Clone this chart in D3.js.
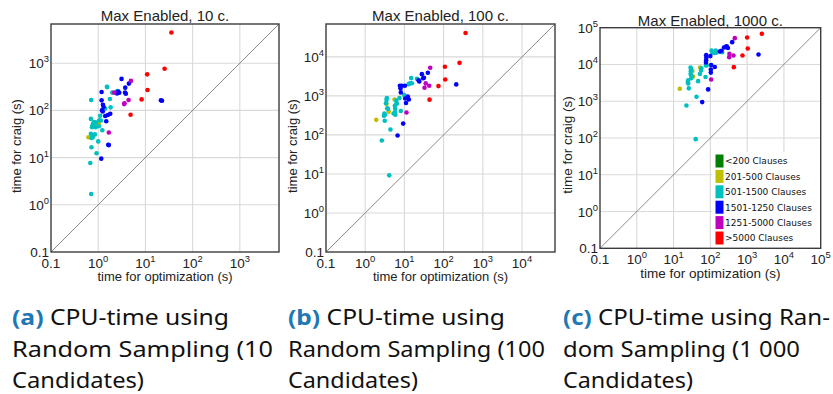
<!DOCTYPE html>
<html><head><meta charset="utf-8">
<script src="https://cdn.jsdelivr.net/npm/d3@7"></script>
<style>html,body{margin:0;padding:0;background:#fff;}svg{display:block;}</style>
</head><body>
<script>
// ---------- data ----------
const categories = ["<200 Clauses","201-500 Clauses","501-1500 Clauses","1501-1250 Clauses","1251-5000 Clauses",">5000 Clauses"];
const catColors = ["#007f00","#bfbf00","#00bfbf","#0000ff","#bf00bf","#ff0000"];

const titles = ["Max Enabled, 10 c.","Max Enabled, 100 c.","Max Enabled, 1000 c."];
const xLabel = "time for optimization (s)";
const yLabel = "time for craig (s)";
const tickExpA = [-1,0,1,2,3];
const tickExpB = [-1,0,1,2,3,4];
const tickExpC = [-1,0,1,2,3,4,5];

// panel (a) 10 candidates: [optimization s, craig s]
const green10 = [];
const yellow10 = [[0.84,56],[0.86,45],[0.62,27],[1.03,53]];
const cyan10 = [[1.53,315],[0.71,166],[1.98,238],[2.53,257],[1.77,174],[1.83,116],[0.70,66],[1.10,77],[1.05,62],[1.14,61],[0.81,56],[0.78,52],[0.75,47],[0.74,44],[0.88,44],[1.03,46],[1.22,38],[0.70,32],[0.75,29],[0.77,27],[0.72,26],[0.85,31],[1.0,22],[0.72,16.6],[0.92,12.4],[0.68,7.7],[0.71,1.69],[0.9,55],[1.4,110],[1.55,311]];
const blue10 = [[3.12,464],[4.47,369],[3.74,303],[3.7,240],[3.85,225],[2.66,250],[2.79,236],[2.5,228],[1.18,245],[21.3,163],[22.5,160],[1.18,163],[1.26,132],[1.30,118],[1.20,100],[1.25,95],[1.80,85],[1.60,80],[1.41,76],[1.48,59],[1.63,18.6],[1.68,18.4],[1.16,9.5]];
const magenta10 = [[4.93,421],[2.18,238],[4.4,166],[3.6,141],[3.55,136],[1.68,34]];
const red10 = [[35.5,4450],[25.5,760],[10.9,580],[11.1,270],[8.3,171],[4.85,81]];

// panel (b) 100 candidates
const green100 = [];
const yellow100 = [[5.6,810],[1.91,243],[4.0,395],[3.5,620]];
const cyan100 = [[14.9,2860],[13.2,2040],[14,2100],[15.5,2100],[12.8,1980],[21,2760],[9.9,1050],[7.5,880],[6.2,760],[6.4,650],[5.7,560],[5.8,465],[5.75,380],[3.55,880],[3.5,780],[3.4,650],[3.8,465],[3.65,480],[3.1,355],[3.0,310],[3.15,230],[5.3,355],[8.1,410],[4.4,138],[2.66,72],[4.1,9.2],[3.2,330],[5.9,330],[6.3,620]];
const blue100 = [[210,1970],[39.7,3910],[30,2830],[31.5,2900],[24,2340],[23,2500],[27.9,3610],[7.66,1820],[8.6,1820],[10.3,1820],[7.95,1550],[8.1,1230],[12.2,960],[13,810],[11,660],[10.5,860],[9.3,195],[6.7,97]];
const magenta100 = [[45.5,5250],[35,2090],[43,1820],[32.6,1620],[11.3,375]];
const red100 = [[363,40900],[255,7030],[108,5560],[110,2640],[74,1780],[43.8,800]];

// panel (c) 1000 candidates
const green1000 = [];
const yellow1000 = [[14.8,2190],[52.7,8300],[32.6,6600],[34,4700]];
const cyan1000 = [[22.4,767],[42,1320],[40,93],[26,2240],[29,8300],[30,7450],[29.5,6500],[29,5480],[57,7900],[56,6900],[52,5480],[31,4800],[30.5,4260],[25,3720],[24.5,3300],[25,3040],[46.5,3520],[74,4560],[76,9400],[80,9500],[112,22000],[120,21000],[130,20500],[140,24000],[145,21000],[209,21600],[108,24000]];
const blue1000 = [[2040,18700],[392,40400],[280,31000],[300,28000],[260,30000],[235,29000],[200,23600],[180,22500],[77,17900],[78,15500],[77,13100],[76,11300],[100,16900],[105,9600],[132,8500],[103,7300],[103,6000],[87,2100],[60,946]];
const magenta1000 = [[462,52000],[331,19500],[425,17600],[325,15800],[105,3900]];
const red1000 = [[2510,68200],[1000,54200],[1040,27200],[748,17600],[435,8460]];

// captions
const captionA = ["(a)"," CPU-time using","Random Sampling (10","Candidates)"];
const captionB = ["(b)"," CPU-time using","Random Sampling (100","Candidates)"];
const captionC = ["(c)"," CPU-time using Ran-","dom Sampling (1 000","Candidates)"];

// ---------- layout ----------
const W = 833, H = 394;
const panels = [
  {title:titles[0], series:[green10,yellow10,cyan10,blue10,magenta10,red10], ticks:tickExpA, max:6760,
   x0:51, x1:279, y0:24, y1:252, tickSize:13.5, labelSize:13, titleY:20.5, xLabelY:281, yLabelX:21, yLabelMid:146, legend:false,
   caption:captionA, capX:12, capW:[217,261,132]},
  {title:titles[1], series:[green100,yellow100,cyan100,blue100,magenta100,red100], ticks:tickExpB, max:69500,
   x0:326, x1:555, y0:24, y1:252, tickSize:13.5, labelSize:13, titleY:20.5, xLabelY:281, yLabelX:297, yLabelMid:146, legend:false,
   caption:captionB, capX:288, capW:[217,257,130]},
  {title:titles[2], series:[green1000,yellow1000,cyan1000,blue1000,magenta1000,red1000], ticks:tickExpC, max:1e5,
   x0:600, x1:820.7, y0:27.7, y1:248.3, tickSize:13.5, labelSize:13.5, titleY:25.5, xLabelY:278, yLabelX:572, yLabelMid:145, legend:true,
   caption:captionC, capX:563, capW:[267,237,130]}
];

const svg = d3.select("body").append("svg").attr("width",W).attr("height",H);
const FONT = "'Liberation Sans', Arial, sans-serif";

panels.forEach(p => {
  const x = d3.scaleLog().domain([0.1,p.max]).range([p.x0,p.x1]);
  const y = d3.scaleLog().domain([0.1,p.max]).range([p.y1,p.y0]);
  const g = svg.append("g");

  // grid
  const gridVals = p.ticks.map(e => Math.pow(10,e)).filter(v => v > 0.1 && v < p.max);
  g.selectAll("line.gx").data(gridVals).join("line")
    .attr("x1",d=>x(d)).attr("x2",d=>x(d)).attr("y1",p.y0).attr("y2",p.y1)
    .attr("stroke","#d9d9d9").attr("stroke-width",1.1);
  g.selectAll("line.gy").data(gridVals).join("line")
    .attr("y1",d=>y(d)).attr("y2",d=>y(d)).attr("x1",p.x0).attr("x2",p.x1)
    .attr("stroke","#d9d9d9").attr("stroke-width",1.1);

  // diagonal
  g.append("line").attr("x1",x(0.1)).attr("y1",y(0.1)).attr("x2",x(p.max)).attr("y2",y(p.max))
    .attr("stroke","#8a8a8a").attr("stroke-width",1);

  // points
  p.series.forEach((s,i) => {
    g.selectAll(null).data(s).join("circle")
      .attr("cx",d=>x(d[0])).attr("cy",d=>y(d[1])).attr("r",2.3)
      .attr("fill",catColors[i]);
  });

  // legend
  if (p.legend) {
    const lx = 712, ly = 152, rowH = 15.4;
    g.append("rect").attr("x",lx).attr("y",ly).attr("width",p.x1-lx-0.8).attr("height",p.y1-ly-0.8).attr("fill","#fff");
    categories.forEach((c,i) => {
      const cy = ly + 9 + i*rowH;
      g.append("rect").attr("x",715.5).attr("y",cy-6.5).attr("width",8).attr("height",13).attr("fill",catColors[i]);
      g.append("text").attr("x",725).attr("y",cy+3.3).text(c)
        .attr("font-family","'DejaVu Sans', sans-serif").attr("font-size",9).attr("fill","#111");
    });
  }

  // frame
  g.append("rect").attr("x",p.x0).attr("y",p.y0).attr("width",p.x1-p.x0).attr("height",p.y1-p.y0)
    .attr("fill","none").attr("stroke","#3c3c3c").attr("stroke-width",1.4);

  // tick labels
  const addTickLabel = (sel, e) => {
    if (e === -1) { sel.text("0.1"); return; }
    sel.append("tspan").text("10");
    sel.append("tspan").attr("dy",-6).attr("font-size",p.tickSize*0.7).text(String(e));
  };
  p.ticks.forEach(e => {
    const v = Math.pow(10,e);
    const tx = g.append("text").attr("x",x(v)).attr("y",p.y1+15.5).attr("text-anchor","middle")
      .attr("font-family",FONT).attr("font-size",p.tickSize).attr("fill","#222");
    addTickLabel(tx,e);
    const ty = g.append("text").attr("x",p.x0-2).attr("y",y(v)+5).attr("text-anchor","end")
      .attr("font-family",FONT).attr("font-size",p.tickSize).attr("fill","#222");
    addTickLabel(ty,e);
  });

  // axis labels and title
  g.append("text").attr("x",(p.x0+p.x1)/2).attr("y",p.xLabelY).attr("text-anchor","middle")
    .attr("font-family",FONT).attr("font-size",p.labelSize).attr("fill","#222").text(xLabel);
  g.append("text").attr("transform",`translate(${p.yLabelX},${p.yLabelMid}) rotate(-90)`).attr("text-anchor","middle")
    .attr("font-family",FONT).attr("font-size",p.labelSize).attr("fill","#222").text(yLabel);
  g.append("text").attr("x",(p.x0+p.x1)/2).attr("y",p.titleY).attr("text-anchor","middle")
    .attr("font-family",FONT).attr("font-size",15).attr("fill","#222").text(p.title);

  // caption
  const capFont = "'Noto Sans', 'Open Sans', sans-serif";
  const baselines = [325, 357, 388];
  const l1 = g.append("text").attr("x",p.capX).attr("y",baselines[0]).attr("font-family",capFont)
    .attr("font-size",22).attr("fill","#111").attr("textLength",p.capW[0]).attr("lengthAdjust","spacingAndGlyphs");
  l1.append("tspan").attr("font-weight","bold").attr("fill","#1f78b4").text(p.caption[0]);
  l1.append("tspan").text(p.caption[1]);
  [2,3].forEach((k,j) => {
    g.append("text").attr("x",p.capX).attr("y",baselines[j+1]).attr("font-family",capFont)
      .attr("font-size",22).attr("fill","#111").attr("textLength",p.capW[j+1]).attr("lengthAdjust","spacingAndGlyphs")
      .text(p.caption[k]);
  });
});
</script>
</body></html>
